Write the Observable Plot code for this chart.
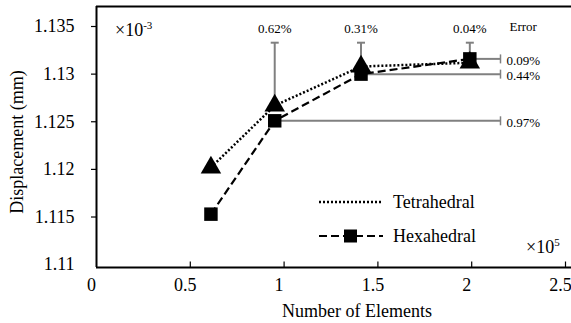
<!DOCTYPE html>
<html>
<head>
<meta charset="utf-8">
<script src="https://cdn.jsdelivr.net/npm/d3@7"></script>
<script src="https://cdn.jsdelivr.net/npm/@observablehq/plot@0.6"></script>
<style>
  html, body { margin: 0; padding: 0; background: #fff; }
  #chart { width: 571px; height: 323px; overflow: hidden; }
  #chart svg, #chart svg text { font-family: "Liberation Serif", "Times New Roman", Times, "DejaVu Serif", serif; }
</style>
</head>
<body>
<div id="chart"></div>
<script>
// ---- data (x in units of 1e5 elements, y in units of 1e-3 mm) ----
const xValues = [0.61, 0.95, 1.41, 1.99];
const tetraValues = [1.1202, 1.1267, 1.1308, 1.1312];
const hexaValues = [1.1153, 1.1251, 1.1300, 1.1316];
const tetraErrTop = [null, 1.1333, 1.1333, 1.1333];
const hexaErrEnd = [null, 2.1535, 2.1535, 2.1535];
const topErrLabels = ["", "0.62%", "0.31%", "0.04%"];
const rightErrLabels = ["", "0.97%", "0.44%", "0.09%"];
const xTicks = [0, 0.5, 1, 1.5, 2, 2.5];
const xTickLabels = ["0", "0.5", "1", "1.5", "2", "2.5"];
const yTicks = [1.11, 1.115, 1.12, 1.125, 1.13, 1.135];
const yTickLabels = ["1.11", "1.115", "1.12", "1.125", "1.13", "1.135"];
const seriesNames = ["Tetrahedral", "Hexahedral"];
const xDomain = [0, 2.532];
const yDomain = [1.1097, 1.1371];

const rows = xValues.map((x, i) => ({
  x, tetra: tetraValues[i], hexa: hexaValues[i],
  top: tetraErrTop[i], end: hexaErrEnd[i],
  topLabel: topErrLabels[i], rightLabel: rightErrLabels[i]
}));
const errRows = rows.filter(d => d.top != null);

const GRAY = "#808080";
const FONT = '"Liberation Serif", "Times New Roman", Times, "DejaVu Serif", serif';

const hCap = {draw(ctx, size) { const r = Math.sqrt(size / Math.PI); ctx.moveTo(-r, 0); ctx.lineTo(r, 0); }};
const vCap = {draw(ctx, size) { const r = Math.sqrt(size / Math.PI); ctx.moveTo(0, -r); ctx.lineTo(0, r); }};
const upTick = {draw(ctx, size) { const r = Math.sqrt(size / Math.PI); ctx.moveTo(0, 0); ctx.lineTo(0, -r); }};

const plot = Plot.plot({
  width: 571,
  height: 323,
  marginLeft: 96,
  marginRight: 0,
  marginTop: 6,
  marginBottom: 56,
  style: {fontFamily: FONT, fontSize: "18px", background: "#fff", color: "#000"},
  x: {domain: xDomain},
  y: {domain: yDomain},
  marks: [
    // error bars
    Plot.ruleX(errRows, {x: "x", y1: "tetra", y2: "top", stroke: GRAY, strokeWidth: 2}),
    Plot.dot(errRows, {x: "x", y: "top", symbol: hCap, r: 4, stroke: GRAY, strokeWidth: 2, fill: "none"}),
    Plot.ruleY(errRows, {y: "hexa", x1: "x", x2: "end", stroke: GRAY, strokeWidth: 2}),
    Plot.dot(errRows, {x: "end", y: "hexa", symbol: vCap, r: 4.5, stroke: GRAY, strokeWidth: 1.5, fill: "none"}),
    // frame lines
    Plot.ruleX([xDomain[0]], {stroke: "#000", strokeWidth: 2}),
    Plot.ruleY([yDomain[0]], {stroke: "#000", strokeWidth: 2}),
    Plot.ruleY([yDomain[1]], {stroke: "#000", strokeWidth: 2}),
    // axes
    Plot.axisY({ticks: yTicks, tickSize: 0, tickPadding: 22, fontSize: 18, tickFormat: d => yTickLabels[yTicks.indexOf(d)], label: null}),
    Plot.axisY({ticks: yTicks.slice(1), tickSize: 5, tickFormat: () => "", label: null, strokeWidth: 1.2}),
    Plot.axisX({ticks: xTicks, tickSize: 0, tickPadding: 11, dx: -5, fontSize: 18, tickFormat: d => xTickLabels[xTicks.indexOf(d)], label: null}),
    Plot.dot(xTicks.slice(1), {x: d => d, frameAnchor: "bottom", symbol: upTick, r: 6, stroke: "#000", strokeWidth: 1.2, fill: "none"}),
    // series
    Plot.line(rows, {x: "x", y: "tetra", stroke: "#000", strokeWidth: 2.5, strokeDasharray: "2,2", strokeLinecap: "butt"}),
    Plot.line(rows, {x: "x", y: "hexa", stroke: "#000", strokeWidth: 2.2, strokeDasharray: "8,4", strokeLinecap: "butt"}),
    Plot.dot(rows, {x: "x", y: "tetra", symbol: "triangle", r: 7.6, fill: "#000"}),
    Plot.dot(rows, {x: "x", y: "hexa", symbol: "square", r: 7.6, fill: "#000"}),
    // error annotations
    Plot.text(errRows, {x: "x", frameAnchor: "top", lineAnchor: "middle", dy: 22, text: "topLabel", fontSize: 13}),
    Plot.text(errRows, {x: "end", y: "hexa", text: "rightLabel", textAnchor: "start", dx: 6, dy: 2, fontSize: 13}),
    Plot.text(["Error"], {x: hexaErrEnd[1], frameAnchor: "top", lineAnchor: "middle", dy: 20, dx: 9, textAnchor: "start", fontSize: 13})
  ]
});

document.getElementById("chart").appendChild(plot);

// titles, multipliers and legend
const svg = d3.select(plot);
svg.append("text")
  .attr("transform", "translate(17,142) rotate(-90)")
  .attr("text-anchor", "middle").attr("dy", "0.35em")
  .attr("font-size", 18).attr("fill", "#000")
  .text("Displacement (mm)");
svg.append("text")
  .attr("x", 357).attr("y", 311)
  .attr("text-anchor", "middle").attr("dy", "0.35em")
  .attr("font-size", 18).attr("fill", "#000")
  .text("Number of Elements");

function multiplier(x, y, exp) {
  const t = svg.append("text").attr("x", x).attr("y", y).attr("dy", "0.35em")
    .attr("text-anchor", "start").attr("font-size", 18).attr("fill", "#000");
  t.append("tspan").text("×10");
  t.append("tspan").attr("dy", -7).attr("font-size", 11).text(exp);
}
multiplier(115, 30, "-3");
multiplier(526, 247, "5");

const lg = svg.append("g").attr("font-size", 18).attr("fill", "#000").attr("text-anchor", "start");
lg.append("line").attr("x1", 319).attr("x2", 383).attr("y1", 202).attr("y2", 202)
  .attr("stroke", "#000").attr("stroke-width", 2.5).attr("stroke-dasharray", "2,2");
lg.append("text").attr("x", 393).attr("y", 202).attr("dy", "0.35em").text(seriesNames[0]);
lg.append("line").attr("x1", 319).attr("x2", 383).attr("y1", 236).attr("y2", 236)
  .attr("stroke", "#000").attr("stroke-width", 2.2).attr("stroke-dasharray", "8,4");
lg.append("rect").attr("x", 344).attr("y", 229.5).attr("width", 13).attr("height", 13).attr("fill", "#000");
lg.append("text").attr("x", 393).attr("y", 236).attr("dy", "0.35em").text(seriesNames[1]);
</script>
</body>
</html>
